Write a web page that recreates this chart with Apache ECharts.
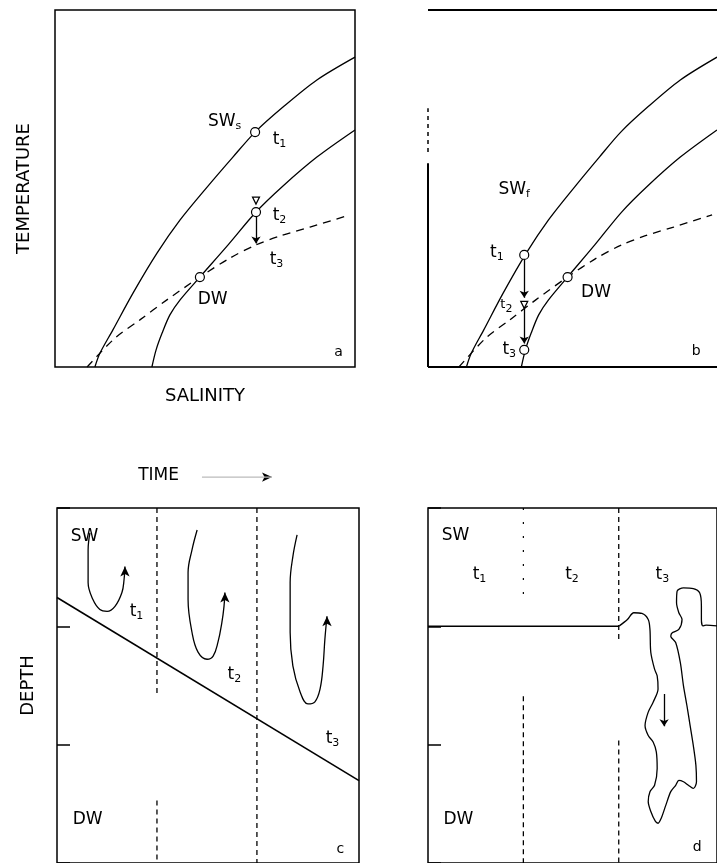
<!DOCTYPE html>
<html>
<head>
<meta charset="utf-8">
<script src="https://cdn.jsdelivr.net/npm/echarts@6/dist/echarts.min.js"></script>
<style>
  html, body { margin: 0; background: #fff; }
  #main { width: 717px; height: 863px; }
</style>
</head>
<body>
<div id="main"></div>
<script>
// T-S curves (salinity, temperature) - panels a and b use the same ones
var swCurve  = [[13.3,0],[15,3.9],[19.3,10.4],[26,20.7],[34,31.9],[41.7,41.2],[50.7,50.4],[59.3,58.8],[66.7,65.8],[76,72.8],[87.3,80.4],[100,86.8]];
var dwCurve  = [[32.3,0],[33.7,4.8],[35.7,9.5],[38.3,14.6],[41.7,18.8],[48.3,25.2],[57.7,34.2],[67,43.4],[76,50.7],[87.3,58.8],[100,66.4]];
var mixCurve = [[10.7,0],[20,8.1],[28.3,13.2],[37.3,18.8],[48.3,25.2],[58.3,30.5],[67,34.2],[75,36.7],[85,39.2],[98.3,42.6]];

// points / arrows on the T-S panels
var circlesA   = [[66.7,65.8],[67,43.4],[48.3,25.2]];
var trianglesA = [[67,46.6]];
var arrowsA    = [[[67,43.4],[67,34.6]]];
var circlesB   = [[33.3,31.4],[33.3,4.8],[48.3,25.2]];
var trianglesB = [[33.3,17.4]];
var arrowsB    = [[[33.3,31.4],[33.3,19.4]], [[33.3,17.4],[33.3,6.6]]];

// panel b frame (left side is broken)
var frameBTop    = [[0,100],[100,100]];
var frameBBottom = [[0,0],[100,0]];
var frameBLeft   = [[0,0],[0,57.1]];
var frameBLeftDash = [[0,60.2],[0,72.5]];

// panel c : depth (0 top .. 100 bottom) vs time
var interfaceC = [[0,25.2],[100,76.8]];
var timeC1a = [[33.1,0],[33.1,53]];
var timeC1b = [[33.1,82.4],[33.1,100]];
var timeC2  = [[66.2,0],[66.2,100]];
var loopC1 = [[10.9,7],[10.3,11.8],[10.3,21],[11.9,25.8],[14.2,28.6],[16.6,29.1],[19.2,27.7],[21.5,23.8],[22.2,20.2],[22.5,16.5]];
var loopC2 = [[46.4,6.2],[44.7,11.8],[43.4,18.2],[43.4,25.8],[44.7,35],[46.7,40.6],[49.7,42.6],[51.7,41.7],[53.3,37.8],[54.6,32.2],[55.3,27.7],[55.6,23.8]];
var loopC3 = [[79.5,7.6],[78.1,13.7],[77.2,21],[77.2,35],[78.1,44.5],[80.5,51.8],[83.1,55.2],[85.4,54.6],[87.1,51],[88.1,44.5],[88.7,37],[89.4,30.5]];
var timeArrow = [[48,-8.7],[71.2,-8.7]];

// panel d
var interfaceD = [[0,33.3],[66.2,33.3]];
var timeD1a = [[33,0],[33,25]];
var timeD1b = [[33,53],[33,100]];
var timeD2a = [[66,0],[66,37]];
var timeD2b = [[66,65.5],[66,100]];
var plume = [[66.2,33.2],[69,31.4],[71.2,29.5],[74,29.7],[76.2,31.4],[76.8,34.2],[77.1,40.7],[78.4,45.4],[79.3,47.3],[79.6,51],
  [77.9,54.7],[76.2,57.5],[75.1,61.3],[76.2,64.1],[77.9,65.9],[79,68.7],[79.3,73.4],[78.4,78.1],[76.8,79.9],[76.2,82.7],
  [77.1,85.5],[78.7,88.3],[79.6,88.8],[80.7,87.4],[82.3,83.7],[84,79.9],[85.7,78.1],[86.8,76.7],[88.4,77.1],[90.1,78.1],
  [91.8,79],[92.9,77.1],[92.7,72.5],[91.8,66.9],[90.7,61.3],[89.6,55.7],[88.4,50.1],[87.3,43.5],[85.7,37.9],[84,36.1],
  [84.6,35.1],[86.8,34.2],[87.9,31.4],[86.8,29.5],[86,26.7],[86.2,23.4],[88.4,22.5],[91.8,22.7],[94,23.9],[94.6,27.6],
  [94.6,31.4],[95.1,33.2],[96.2,33],[101,33.3]];
var arrowsD = [[[81.7,52.4],[81.7,61.5]]];

// text labels [x, y, text]
var labelsA = [[56.7,68.6,'SW{s|s}'],[75,63.6,'t{s|1}'],[75,42.3,'t{s|2}'],[74,30,'t{s|3}'],[52.7,18.8,'DW'],[94.7,3.9,'{p|a}']];
var labelsB = [[30,49.6,'SW{s|f}'],[24,31.9,'t{s|1}'],[27.3,17.4,'{q|t}{s|2}'],[28.3,4.8,'t{s|3}'],[58.3,20.7,'DW'],[93,4.2,'{p|b}']];
var labelsC = [[9.3,8.1,'SW'],[26.5,29.4,'t{s|1}'],[58.9,47.1,'t{s|2}'],[91.4,65,'t{s|3}'],[10.3,88,'DW'],[94,96.4,'{p|c}'],[33.8,-9,'TIME']];
var labelsD = [[9.7,7.8,'SW'],[18,18.8,'t{s|1}'],[50,18.8,'t{s|2}'],[81.3,18.8,'t{s|3}'],[10.7,88,'DW'],[93.3,95.8,'{p|d}']];

var ink = '#000';
var font = 'DejaVu Sans';

var rich = {
  s: { fontSize: 11, fontFamily: font, color: ink, verticalAlign: 'bottom', lineHeight: 20 },
  q: { fontSize: 13, fontFamily: font, color: ink },
  p: { fontSize: 14, fontFamily: font, color: ink }
};

function line(g, data, width, type, extra) {
  var s = {
    type: 'line', xAxisIndex: g, yAxisIndex: g, data: data,
    symbol: 'none', silent: true,
    lineStyle: { color: ink, width: width || 1.2, type: type || 'solid' }
  };
  for (var k in extra) s[k] = extra[k];
  return s;
}

function loop(g, data) {
  // last point gets an arrowhead pointing up
  var pts = data.map(function (p, i) {
    if (i < data.length - 1) return { value: p, symbol: 'none' };
    return { value: p, symbol: 'arrow', symbolSize: [7, 10], itemStyle: { color: ink, opacity: 1 } };
  });
  return {
    type: 'line', xAxisIndex: g, yAxisIndex: g, data: pts, smooth: 0.4,
    showSymbol: true, silent: true,
    lineStyle: { color: ink, width: 1.3 }
  };
}

function arrows(g, segs) {
  return {
    type: 'lines', coordinateSystem: 'cartesian2d', xAxisIndex: g, yAxisIndex: g,
    data: segs.map(function (s) { return { coords: s }; }),
    symbol: ['none', 'arrow'], symbolSize: 7, silent: true, z: 5,
    lineStyle: { color: ink, width: 1.3, opacity: 1 }
  };
}

function marks(g, pts, symbol, size, rot) {
  return {
    type: 'scatter', xAxisIndex: g, yAxisIndex: g, data: pts,
    symbol: symbol, symbolSize: size, symbolRotate: rot || 0, silent: true, z: 6,
    itemStyle: { color: '#fff', borderColor: ink, borderWidth: 1.2, opacity: 1 }
  };
}

function labels(g, items) {
  return {
    type: 'scatter', xAxisIndex: g, yAxisIndex: g, symbolSize: 1, clip: false, silent: true, z: 10,
    itemStyle: { color: 'rgba(0,0,0,0)', opacity: 1 },
    data: items.map(function (t) { return { value: [t[0], t[1]], text: t[2] }; }),
    label: {
      show: true, position: [0, 0], align: 'center', verticalAlign: 'middle',
      color: ink, fontSize: 17, fontFamily: font, textBorderWidth: 0,
      formatter: function (p) { return p.data.text; }, rich: rich
    }
  };
}

var nameStyle = { fontSize: 18, fontFamily: font, color: ink };

function xAx(g, name) {
  return {
    gridIndex: g, type: 'value', min: 0, max: 100,
    name: name || '', nameLocation: 'middle', nameGap: 20, nameTextStyle: nameStyle,
    axisLine: { show: false }, axisTick: { show: false }, axisLabel: { show: false }, splitLine: { show: false }
  };
}

function yAx(g, name, depth) {
  return {
    gridIndex: g, type: 'value', min: 0, max: 100, inverse: !!depth,
    interval: 100 / 3,
    name: name || '', nameLocation: 'middle', nameGap: depth ? 20 : 22, nameRotate: 90, nameTextStyle: nameStyle,
    axisLine: { show: false },
    axisTick: { show: !!depth, inside: true, length: 13, lineStyle: { color: ink, width: 1.5 } },
    axisLabel: { show: false }, splitLine: { show: false }
  };
}

function grid(left, top, width, show) {
  return { left: left, top: top, width: width, height: 357, show: show, borderColor: ink, borderWidth: 1.5 };
}

var myChart = echarts.init(document.getElementById('main'));

var option = {
  animation: false,
  backgroundColor: '#fff',
  grid: [grid(55, 10, 300, true), grid(428, 10, 300, false), grid(57, 508, 302, true), grid(428, 508, 300, true)],
  xAxis: [xAx(0, 'SALINITY'), xAx(1), xAx(2), xAx(3)],
  yAxis: [yAx(0, 'TEMPERATURE'), yAx(1), yAx(2, 'DEPTH', true), yAx(3, '', true)],
  series: [
    // a
    line(0, swCurve, 1.3, 'solid', { smooth: 0.3 }),
    line(0, dwCurve, 1.3, 'solid', { smooth: 0.3 }),
    line(0, mixCurve, 1.3, [8, 6], { smooth: 0.3 }),
    arrows(0, arrowsA),
    marks(0, circlesA, 'circle', 9),
    marks(0, trianglesA, 'triangle', 7, 180),
    labels(0, labelsA),
    // b
    line(1, frameBTop, 2),
    line(1, frameBBottom, 2),
    line(1, frameBLeft, 2),
    line(1, frameBLeftDash, 1.5, [4, 4]),
    line(1, swCurve, 1.3, 'solid', { smooth: 0.3 }),
    line(1, dwCurve, 1.3, 'solid', { smooth: 0.3 }),
    line(1, mixCurve, 1.3, [8, 6], { smooth: 0.3 }),
    arrows(1, arrowsB),
    marks(1, circlesB, 'circle', 9),
    marks(1, trianglesB, 'triangle', 7, 180),
    labels(1, labelsB),
    // c
    line(2, interfaceC, 1.6),
    line(2, timeC1a, 1.3, [5, 4]),
    line(2, timeC1b, 1.3, [5, 4]),
    line(2, timeC2, 1.3, [5, 4]),
    loop(2, loopC1),
    loop(2, loopC2),
    loop(2, loopC3),
    line(2, timeArrow, 1.2, 'solid', { clip: false, lineStyle: { color: '#bbb', width: 1.2 } }),
    {
      type: 'scatter', xAxisIndex: 2, yAxisIndex: 2, clip: false, silent: true,
      data: [timeArrow[1]], symbol: 'arrow', symbolSize: [7, 10], symbolRotate: -90,
      itemStyle: { color: ink, opacity: 1 }
    },
    labels(2, labelsC),
    // d
    line(3, interfaceD, 1.6),
    line(3, timeD1a, 1.2, [2, 12]),
    line(3, timeD1b, 1.3, [5, 4]),
    line(3, timeD2a, 1.3, [5, 4]),
    line(3, timeD2b, 1.3, [5, 4]),
    line(3, plume, 1.3, 'solid', { smooth: 0.3 }),
    arrows(3, arrowsD),
    labels(3, labelsD)
  ]
};

myChart.setOption(option);
</script>
</body>
</html>
